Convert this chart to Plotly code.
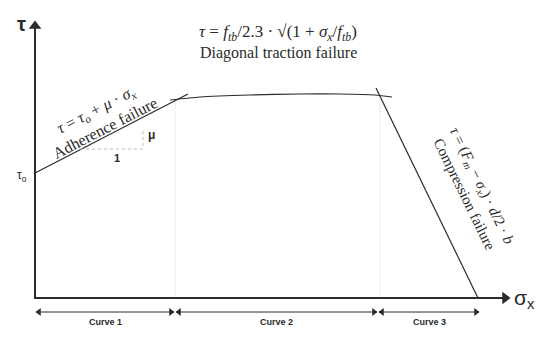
import plotly.graph_objects as go

# schematic data: sigma_x (horizontal) and tau (vertical), origin at the axes corner
curve1_sigma = [0, 153]
curve1_tau = [125, 204]
curve2_sigma = [135, 165, 215, 265, 305, 340, 357]
curve2_tau = [198, 201, 203, 204, 204, 203, 201]
curve3_sigma = [341, 443]
curve3_tau = [210, 0]
guide_sigma = [140, 345]
guide_top = 198
segment_bounds = [0, 140, 343, 445]
segment_labels = ["Curve 1", "Curve 2", "Curve 3"]

INK = "#2b2b2b"
SERIF = "Liberation Serif, Times New Roman, serif"
SANS = "Liberation Sans, Arial, sans-serif"

fig = go.Figure()


def line(xs, ys, color=INK, width=1.2, dash="solid", shape="linear"):
    fig.add_trace(go.Scatter(x=xs, y=ys, mode="lines", hoverinfo="skip",
                             line=dict(color=color, width=width, dash=dash, shape=shape, smoothing=0.6)))


def heads(xs, ys, symbols, size):
    fig.add_trace(go.Scatter(x=xs, y=ys, mode="markers", hoverinfo="skip",
                             marker=dict(symbol=symbols, size=size, color=INK, line=dict(width=0))))


for s in guide_sigma:
    line([s, s], [0, guide_top], color="#ececec", width=1)

for xs, ys in ((curve1_sigma, curve1_tau), (curve2_sigma, curve2_tau), (curve3_sigma, curve3_tau)):
    line(xs, ys, shape="spline")

# slope triangle (dotted)
line([45, 108, 108], [149, 149, 168], color="#bdbdbd", width=1, dash="dot")

# axes with arrow heads
line([0, 0], [-1, 270], width=2)
line([-1, 468], [0, 0], width=2)
heads([0, 470], [272, 0], ["triangle-up", "triangle-right"], 11)

# curve span dimension arrows
for a, b in zip(segment_bounds[:-1], segment_bounds[1:]):
    line([a + 1, b - 1], [-14, -14], width=1)
    heads([a + 4, b - 4], [-14, -14], ["triangle-left", "triangle-right"], 7)

annotations = [
    dict(x=(a + b) / 2, y=-24, text="<b>" + lab + "</b>", font=dict(family=SANS, size=9, color=INK))
    for a, b, lab in zip(segment_bounds[:-1], segment_bounds[1:], segment_labels)
]

annotations += [
    dict(x=-14, y=274, text="<b>τ</b>", font=dict(family=SANS, size=20, color=INK)),
    dict(x=489, y=-1, text="σ<sub>x</sub>", font=dict(family=SANS, size=21, color=INK)),
    dict(x=-13, y=122, text="τ<sub>o</sub>", font=dict(family=SANS, size=12, color=INK)),
    dict(x=116, y=163, text="<b>μ</b>", font=dict(family=SANS, size=12, color=INK)),
    dict(x=82, y=140, text="<b>1</b>", font=dict(family=SANS, size=11, color=INK)),
    dict(x=243, y=265,
         text="<i>τ</i> = <i>f<sub>tb</sub></i>/2.3 · √(1 + <i>σ<sub>x</sub></i>/<i>f<sub>tb</sub></i>)",
         font=dict(family=SERIF, size=17, color=INK)),
    dict(x=243, y=245, text="Diagonal traction failure",
         font=dict(family=SERIF, size=16, color=INK)),
    dict(x=65, y=179, textangle=-27.3,
         text="<i>τ</i> = <i>τ<sub>o</sub></i> + <i>μ</i> · <i>σ<sub>x</sub></i><br>Adherence failure",
         font=dict(family=SERIF, size=16, color=INK)),
    dict(x=438, y=108, textangle=64,
         text="<i>τ</i> = (<i>F<sub>m</sub></i> − <i>σ<sub>x</sub></i>) · <i>d</i>/2 · <i>b</i>"
              "<br>Compression failure",
         font=dict(family=SERIF, size=15, color=INK)),
]
for a in annotations:
    a.update(showarrow=False, xref="x", yref="y")

# page body adds an 8px offset; shift the ranges so the drawing lands where the reference has it
fig.update_layout(
    width=550, height=338,
    margin=dict(l=0, r=0, t=0, b=0),
    paper_bgcolor="white", plot_bgcolor="white",
    showlegend=False,
    xaxis=dict(range=[-27, 523], visible=False, fixedrange=True),
    yaxis=dict(range=[-48, 290], visible=False, fixedrange=True),
    annotations=annotations,
)

fig.write_html("out.html")
